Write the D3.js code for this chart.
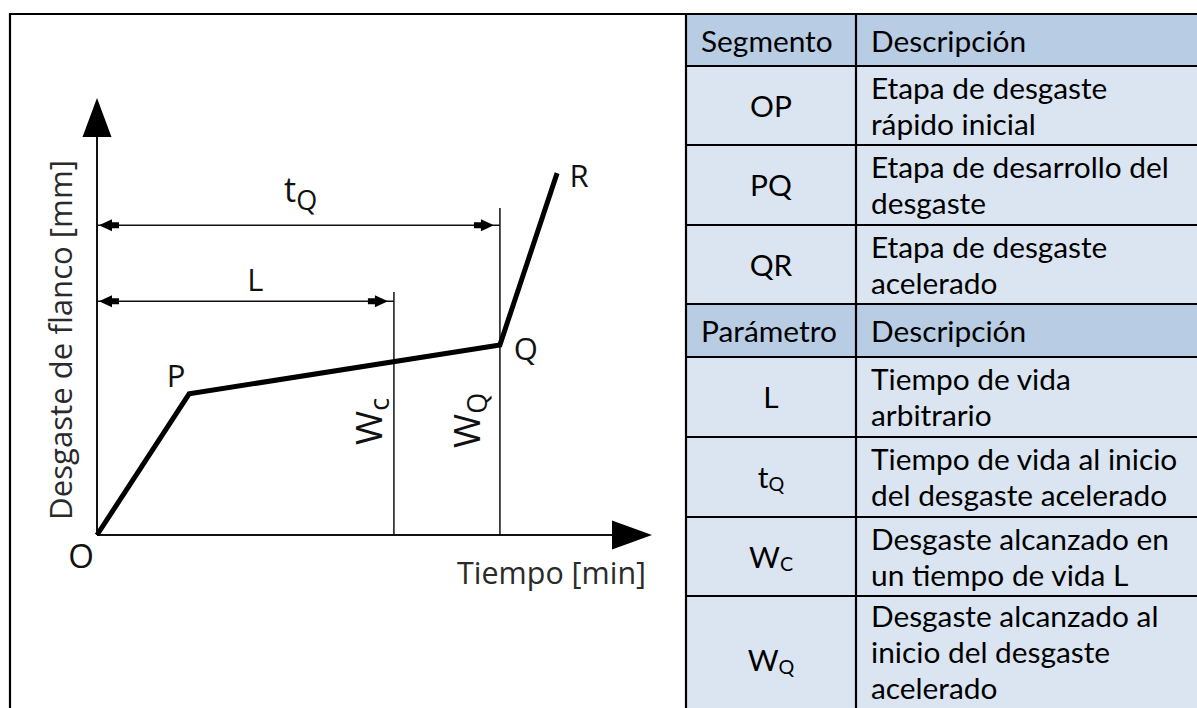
<!DOCTYPE html>
<html><head><meta charset="utf-8">
<script src="https://cdn.jsdelivr.net/npm/d3@7"></script>
<style>html,body{margin:0;padding:0;background:#fff;overflow:hidden}</style>
</head><body><svg id="c" width="1197" height="708" xmlns="http://www.w3.org/2000/svg"></svg>
<script>
// ---------------- data ----------------
const curveLabels = ["O", "P", "Q", "R"];
const curveTime   = [0, 16.6, 72.6, 82.9];   // time units (0..100 axis)
const curveWear   = [0, 32.3, 43.5, 82.8];   // wear units (0..100 axis)
const markerNames = ["L", "tQ"];
const markerTime  = [53.5, 72.6];            // L and tQ positions on time axis
const markerTop   = [55.6, 74.8];            // top of vertical reference lines
const dimLevel    = [53.5, 70.9];            // height of dimension lines
const wearLabels  = [["W", "c"], ["W", "Q"]];
const xAxisTitle  = "Tiempo [min]";
const yAxisTitle  = "Desgaste de flanco [mm]";

const segHeader   = ["Segmento", "Descripción"];
const segCodes    = ["OP", "PQ", "QR"];
const segDescs    = [["Etapa de desgaste", "rápido inicial"],
                     ["Etapa de desarrollo del", "desgaste"],
                     ["Etapa de desgaste", "acelerado"]];
const paramHeader = ["Parámetro", "Descripción"];
const paramSyms   = ["L", "t", "W", "W"];
const paramSubs   = ["", "Q", "C", "Q"];
const paramDescs  = [["Tiempo de vida", "arbitrario"],
                     ["Tiempo de vida al inicio", "del desgaste acelerado"],
                     ["Desgaste alcanzado en", "un tiempo de vida L"],
                     ["Desgaste alcanzado al", "inicio del desgaste", "acelerado"]];

// ---------------- drawing ----------------
const svg = d3.select("#c");
const x = d3.scaleLinear().domain([0, 100]).range([97, 652]);
const y = d3.scaleLinear().domain([0, 100]).range([535, 98]);

function fitSize(text, family, target, base) {
  const t = svg.append("text").attr("font-family", family).attr("font-size", base).text(text);
  const w = t.node().getComputedTextLength();
  t.remove();
  return base * target / w;
}
const chartFont = "'Open Sans', 'Noto Sans', sans-serif";
const tableFont = "Lato, 'Open Sans', sans-serif";
const axisFs = fitSize(xAxisTitle, chartFont, 189, 30);
const yAxisFs = fitSize(yAxisTitle, chartFont, 360, 30);
const tabFs = fitSize("Etapa de desarrollo del", tableFont, 298, 32);

// outer frame
svg.append("path").attr("d", "M10,710 L10,14 L690,14")
  .attr("fill", "none").attr("stroke", "#000").attr("stroke-width", 2.2);

const g = svg.append("g");

// axes
g.append("line").attr("x1", x(0)).attr("y1", y(0)).attr("x2", x(0)).attr("y2", y(100) + 36)
  .attr("stroke", "#111").attr("stroke-width", 2);
g.append("line").attr("x1", x(0)).attr("y1", y(0)).attr("x2", x(100) - 36).attr("y2", y(0))
  .attr("stroke", "#111").attr("stroke-width", 2);
g.append("path").attr("d", `M${x(0)},${y(100)} L${x(0) - 14.5},${y(100) + 39} L${x(0) + 14.5},${y(100) + 39} Z`)
  .attr("fill", "#000");
g.append("path").attr("d", `M${x(100)},${y(0)} L${x(100) - 40},${y(0) - 14.5} L${x(100) - 40},${y(0) + 14.5} Z`)
  .attr("fill", "#000");

// vertical reference lines
markerTime.forEach((t, i) => {
  g.append("line").attr("x1", x(t)).attr("x2", x(t)).attr("y1", y(0)).attr("y2", y(markerTop[i]))
    .attr("stroke", "#111").attr("stroke-width", 1.5);
});

// dimension lines with arrows
function arrow(tipX, tipY, dir) {
  const L = 20, H = 6, s = dir;
  return `M${tipX},${tipY} L${tipX - s * L * 0.65},${tipY - H} L${tipX - s * L * 0.65},${tipY - 3} L${tipX - s * L},${tipY - 3} L${tipX - s * L},${tipY + 3} L${tipX - s * L * 0.65},${tipY + 3} L${tipX - s * L * 0.65},${tipY + H} Z`;
}
markerTime.forEach((t, i) => {
  const yy = y(dimLevel[i]);
  g.append("line").attr("x1", x(0)).attr("x2", x(t)).attr("y1", yy).attr("y2", yy)
    .attr("stroke", "#111").attr("stroke-width", 1.5);
  g.append("path").attr("d", arrow(x(0) + 2, yy, -1)).attr("fill", "#000");
  g.append("path").attr("d", arrow(x(t) - 6, yy, 1)).attr("fill", "#000");
});

// wear curve
const pts = curveTime.map((t, i) => [x(t), y(curveWear[i])]);
g.append("path").attr("d", d3.line()(pts)).attr("fill", "none")
  .attr("stroke", "#000").attr("stroke-width", 5).attr("stroke-linejoin", "miter");

// point labels
const labelOff = [[-16, 33], [-13, -7], [26, 15], [22, 14]];
curveLabels.forEach((lab, i) => {
  g.append("text").attr("x", pts[i][0] + labelOff[i][0]).attr("y", pts[i][1] + labelOff[i][1])
    .attr("text-anchor", "middle").attr("font-family", chartFont).attr("font-size", i === 0 ? 33 : 31)
    .attr("fill", "#111").text(lab);
});

// dimension labels
const dimL = g.append("text").attr("x", (x(0) + x(markerTime[0])) / 2 + 10).attr("y", y(dimLevel[0]) - 10)
  .attr("text-anchor", "middle").attr("font-family", chartFont).attr("font-size", 31).attr("fill", "#111")
  .text(markerNames[0]);
const dimT = g.append("text").attr("x", 284).attr("y", y(dimLevel[1]) - 23)
  .attr("font-family", chartFont).attr("font-size", 34).attr("fill", "#111");
dimT.append("tspan").text(markerNames[1][0]);
dimT.append("tspan").attr("font-size", 27).attr("dy", 8).text(markerNames[1][1]);

// rotated wear labels
const wOff = [[-12, 90], [-20, 87]];
markerTime.forEach((t, i) => {
  const tx = g.append("text")
    .attr("transform", `translate(${x(t) + wOff[i][0]},${y(0) - wOff[i][1]}) rotate(-90)`)
    .attr("font-family", chartFont).attr("font-size", 37).attr("fill", "#111");
  tx.append("tspan").text(wearLabels[i][0]);
  tx.append("tspan").attr("font-size", 27).attr("dy", 7).text(wearLabels[i][1]);
});

// axis titles
g.append("text").attr("x", 646).attr("y", 584).attr("text-anchor", "end")
  .attr("font-family", chartFont).attr("font-size", axisFs).attr("fill", "#2a2a2a").text(xAxisTitle);
g.append("text").attr("transform", `translate(72,340) rotate(-90)`).attr("text-anchor", "middle")
  .attr("font-family", chartFont).attr("font-size", yAxisFs).attr("fill", "#2a2a2a").text(yAxisTitle);

// ---------------- table ----------------
const colX = [686, 856, 1199];
const rowY = [14, 66, 145, 225, 304, 357, 437, 517, 596, 723];
const headFill = "#B8CCE4", bodyFill = "#DBE5F1";
const rows = [];
rows.push({head: true, sym: [segHeader[0], ""], lines: [segHeader[1]]});
segCodes.forEach((c, i) => rows.push({head: false, sym: [c, ""], lines: segDescs[i]}));
rows.push({head: true, sym: [paramHeader[0], ""], lines: [paramHeader[1]]});
paramSyms.forEach((s, i) => rows.push({head: false, sym: [s, paramSubs[i]], lines: paramDescs[i]}));

const tb = svg.append("g");
rows.forEach((r, i) => {
  const top = rowY[i], bot = rowY[i + 1];
  tb.append("rect").attr("x", colX[0]).attr("y", top).attr("width", colX[2] - colX[0]).attr("height", bot - top)
    .attr("fill", r.head ? headFill : bodyFill);
  const cy = (top + bot) / 2;
  // symbol / first column
  const st = tb.append("text").attr("x", r.head ? 701 : (colX[0] + colX[1]) / 2)
    .attr("y", r.head ? top + 38 : cy + 11)
    .attr("text-anchor", r.head ? "start" : "middle")
    .attr("font-family", tableFont).attr("font-size", tabFs).attr("fill", "#000");
  st.append("tspan").text(r.sym[0]);
  if (r.sym[1]) st.append("tspan").attr("font-size", tabFs * 0.66).attr("dy", 3).text(r.sym[1]);
  // description
  const n = r.lines.length;
  const first = r.head ? top + 38 : (n === 3 ? top + 31 : top + 33);
  r.lines.forEach((ln, k) => {
    tb.append("text").attr("x", 871).attr("y", first + k * 36)
      .attr("font-family", tableFont).attr("font-size", tabFs).attr("fill", "#000").text(ln);
  });
});
// table grid
rowY.forEach(v => tb.append("line").attr("x1", colX[0] - 1).attr("x2", colX[2]).attr("y1", v).attr("y2", v)
  .attr("stroke", "#000").attr("stroke-width", 2.2));
colX.forEach(v => tb.append("line").attr("x1", v).attr("x2", v).attr("y1", rowY[0]).attr("y2", rowY[rowY.length - 1])
  .attr("stroke", "#000").attr("stroke-width", 2.2));
</script>
</body></html>
